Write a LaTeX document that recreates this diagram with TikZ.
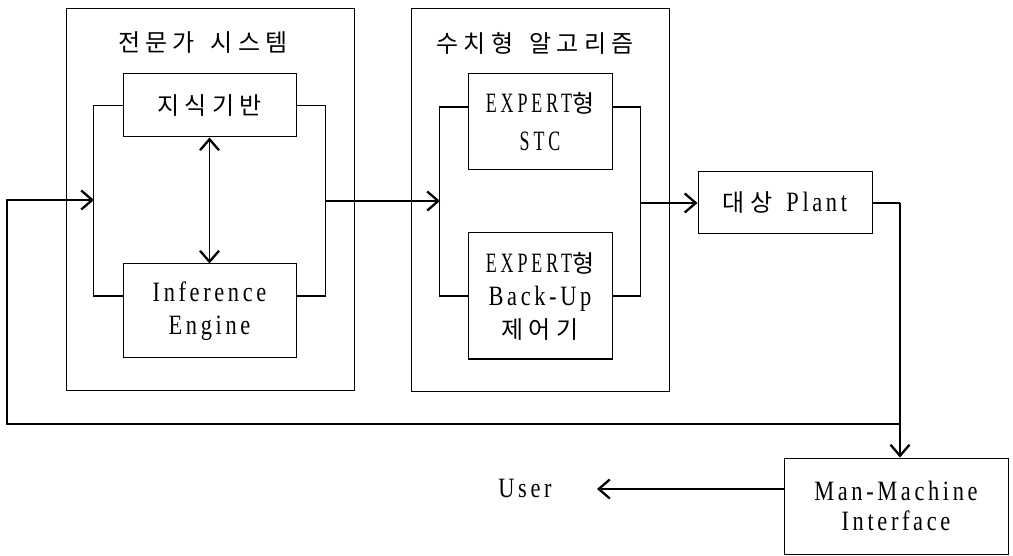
\documentclass[tikz,border=0pt]{standalone}
\usepackage{fontspec}
\setmainfont[FakeStretch=0.8,LetterSpace=13]{Liberation Serif}
\newfontfamily\lcaps[FakeStretch=0.64,LetterSpace=14]{Liberation Serif}
\newfontfamily\kr[LetterSpace=22]{Noto Sans CJK KR}
\newcommand\hk[1]{{\kr\fontsize{24}{33}\selectfont #1}}
\newcommand\uc[1]{{\lcaps #1}}
\newcommand\wsp{\hspace*{16pt}}
\usetikzlibrary{arrows.meta}
\tikzset{
  box/.style={draw, line width=1pt, inner sep=0pt, align=center},
  title/.style={inner sep=0pt},
  conn/.style={line width=1.1pt},
  arr/.style={conn, -{Straight Barb[length=11pt,width=19pt,line width=2.3pt]}},
  darr/.style={conn, {Straight Barb[length=11pt,width=19pt,line width=2.3pt]}-{Straight Barb[length=11pt,width=19pt,line width=2.3pt]}},
  every node/.style={font=\fontsize{28}{33}\selectfont},
}
\begin{document}
\begin{tikzpicture}[x=1pt,y=-1pt]
\useasboundingbox (0,0) rectangle (1013,556);
% group 1
\node[box, minimum width=288pt, minimum height=381pt] (g1) at (210,199.5) {};
\node[title] (t1) at (203,43) {\hk{전문가}\wsp\hk{시스템}};
\node[box, minimum width=173pt, minimum height=63pt] (kb) at (209.5,105.5) {\hk{지식기반}};
\node[box, minimum width=173pt, minimum height=94pt] (ie) at (209.5,311) {Inference\\Engine};
% group 2
\node[box, minimum width=258pt, minimum height=382pt] (g2) at (540,200) {};
\node[title] (t2) at (535,43) {\hk{수치형}\wsp\hk{알고리즘}};
\node[box, minimum width=144pt, minimum height=96pt] (stc) at (540,122) {\uc{EXPERT}\hk{형}\\[5pt]\uc{STC}};
\node[box, minimum width=144pt, minimum height=126pt] (bu) at (540,296) {\uc{EXPERT}\hk{형}\\Back-Up\\\hk{제어기}};
% plant, MMI, user
\node[box, minimum width=174pt, minimum height=62pt] (plant) at (785,203) {\hk{대상}\hspace*{14pt}Plant};
\node[box, minimum width=224pt, minimum height=96pt] (mmi) at (896,506) {Man-Machine\\[-3pt]Interface};
\node[title] (user) at (525,488) {User};
% coordinates
\coordinate (in1) at (94,200);
\coordinate (o1) at (325,201);
\coordinate (i2) at (440,201);
\coordinate (o2) at (640,203);
\coordinate (pr) at (900,203);
\coordinate (fb) at (900,424);
\coordinate (fl) at (7,424);
\coordinate (ua) at (597,489);
% group 1 connectors
\draw[conn] (kb.west) -- ++(-29,0) |- ([yshift=15pt]ie.west);
\draw[conn] (kb.east) -- ++(29,0) |- ([yshift=15pt]ie.east);
\draw[darr] (kb.south) -- (ie.north);
% group 2 connectors
\draw[conn] ([yshift=15pt]stc.west) -- ++(-28,0) |- (bu.west);
\draw[conn] ([yshift=15pt]stc.east) -- ++(28,0) |- (bu.east);
% main flow
\draw[arr] (o1) -- (i2);
\draw[arr] (o2) -- (plant.west);
\draw[conn] (plant.east) -- (pr);
\draw[arr] (pr) -- (mmi.north -| pr);
\draw[arr] (fb) -- (fl) |- (in1);
\draw[arr] ([yshift=17pt]mmi.west) -- (ua);
\end{tikzpicture}
\end{document}
